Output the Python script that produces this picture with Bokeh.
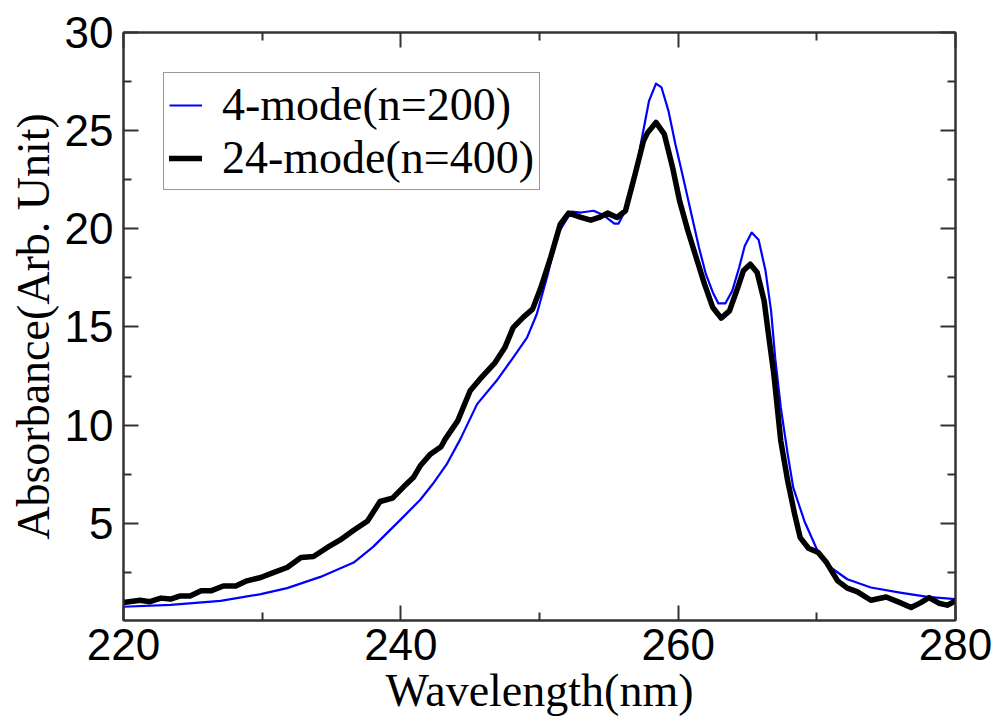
from bokeh.plotting import figure
from bokeh.models import Range1d, FixedTicker, LinearAxis, Legend, LegendItem
from bokeh.embed import file_html
from bokeh.resources import INLINE

# ---- data ----
wl_4mode = [220.0, 223.4, 227.0, 229.9, 231.8, 234.2, 236.6, 238.0, 239.0, 240.0,
            241.4, 242.3, 243.3, 244.3, 245.5, 246.9, 248.1, 249.1, 249.8, 250.6,
            251.3, 252.3, 253.0, 253.9, 254.6, 255.4, 255.7, 256.3, 256.8, 257.3,
            257.9, 258.4, 258.8, 259.3, 259.8, 260.3, 260.9, 261.5, 262.0, 262.5,
            262.9, 263.4, 263.9, 264.4, 264.8, 265.3, 265.8, 266.3, 266.7, 267.0,
            267.4, 267.9, 268.3, 269.1, 270.0, 271.0, 272.2, 273.9, 276.0, 278.0,
            280.0]
abs_4mode = [0.75, 0.85, 1.05, 1.39, 1.70, 2.27, 3.00, 3.80, 4.50, 5.20,
             6.20, 7.00, 8.00, 9.30, 11.07, 12.26, 13.44, 14.46, 15.65, 17.69,
             19.73, 20.88, 20.83, 20.92, 20.70, 20.27, 20.27, 21.08, 22.28, 24.31,
             26.52, 27.40, 27.20, 26.01, 24.31, 22.79, 20.92, 19.05, 17.69, 16.76,
             16.20, 16.20, 16.84, 18.03, 19.13, 19.81, 19.44, 17.86, 15.82, 13.40,
             10.90, 8.52, 6.82, 5.12, 3.68, 2.75, 2.15, 1.73, 1.47, 1.25,
             1.14]

wl_24mode = [220.0, 221.2, 221.9, 222.7, 223.4, 224.1, 224.8, 225.6, 226.3, 227.2,
             228.1, 228.9, 229.9, 230.8, 231.8, 232.8, 233.7, 234.7, 235.6, 236.6,
             237.6, 238.5, 239.4, 240.2, 240.9, 241.4, 242.1, 242.9, 243.2, 244.1,
             245.0, 245.7, 246.8, 247.5, 248.1, 248.8, 249.5, 250.1, 250.8, 251.5,
             252.1, 253.0, 253.7, 254.3, 254.9, 255.6, 256.2, 256.9, 257.5, 257.8,
             258.4, 259.0, 259.6, 260.1, 260.7, 261.3, 261.9, 262.5, 263.1, 263.7,
             264.3, 264.7, 265.2, 265.7, 266.2, 266.5, 266.9, 267.4, 267.9, 268.4,
             268.8, 269.4, 270.1, 270.7, 271.5, 272.2, 272.9, 273.9, 275.0, 276.0,
             276.8, 277.5, 278.1, 278.8, 279.4, 280.0]
abs_24mode = [0.97, 1.08, 1.01, 1.19, 1.14, 1.30, 1.30, 1.56, 1.56, 1.81,
              1.81, 2.07, 2.24, 2.49, 2.75, 3.26, 3.31, 3.77, 4.14, 4.65,
              5.12, 6.11, 6.28, 6.86, 7.33, 7.93, 8.50, 8.90, 9.29, 10.22,
              11.75, 12.34, 13.19, 13.95, 14.97, 15.48, 15.91, 17.01, 18.54, 20.24,
              20.80, 20.58, 20.44, 20.58, 20.80, 20.58, 20.92, 22.80, 24.48, 24.90,
              25.42, 24.82, 23.12, 21.43, 19.90, 18.54, 17.18, 15.99, 15.45, 15.82,
              17.01, 17.86, 18.20, 17.77, 16.33, 14.70, 12.60, 9.20, 7.16, 5.47,
              4.27, 3.73, 3.51, 3.00, 2.07, 1.70, 1.52, 1.08, 1.25, 0.96,
              0.71, 0.96, 1.22, 0.93, 0.83, 1.05]

x_major = [220, 240, 260, 280]
x_minor = [230, 250, 270]
y_major = [5, 10, 15, 20, 25, 30]
y_minor = [2.5, 7.5, 12.5, 17.5, 22.5, 27.5]

label_4 = "4-mode(n=200)"
label_24 = "24-mode(n=400)"

AX = "#333333"

p = figure(width=1000, height=719, output_backend="svg", toolbar_location=None,
           x_range=Range1d(220, 280), y_range=Range1d(0.05, 30),
           min_border_left=123, min_border_top=32, min_border_right=45,
           min_border_bottom=99)
p.background_fill_color = "white"
p.border_fill_color = "white"
p.grid.visible = False
p.outline_line_color = AX
p.outline_line_width = 2

xt = FixedTicker(ticks=x_major, minor_ticks=x_minor)
yt = FixedTicker(ticks=y_major, minor_ticks=y_minor)
p.xaxis.ticker = xt
p.yaxis.ticker = yt

for ax in (p.xaxis[0], p.yaxis[0]):
    ax.major_tick_in = 15
    ax.major_tick_out = 0
    ax.minor_tick_in = 8
    ax.minor_tick_out = 0
    ax.axis_line_color = AX
    ax.axis_line_width = 2
    ax.major_tick_line_color = AX
    ax.major_tick_line_width = 2
    ax.minor_tick_line_color = AX
    ax.minor_tick_line_width = 2
    ax.major_label_text_font = "Liberation Sans"
    ax.major_label_text_font_size = "44px"
    ax.major_label_text_color = "black"
    ax.axis_label_text_font = "Liberation Serif"
    ax.axis_label_text_font_size = "46px"
    ax.axis_label_text_font_style = "normal"
    ax.axis_label_text_color = "black"

p.xaxis.axis_label = "Wavelength(nm)"
p.xaxis.major_label_standoff = 8
p.xaxis.axis_label_standoff = 2
p.yaxis.axis_label = "Absorbance(Arb. Unit)"
p.yaxis.major_label_standoff = 10
p.yaxis.axis_label_standoff = 3

for side, tk in (("right", yt), ("above", xt)):
    a = LinearAxis(ticker=tk)
    a.major_tick_in = 15
    a.major_tick_out = 0
    a.minor_tick_in = 8
    a.minor_tick_out = 0
    a.axis_line_color = AX
    a.axis_line_width = 2
    a.major_tick_line_color = AX
    a.major_tick_line_width = 2
    a.minor_tick_line_color = AX
    a.minor_tick_line_width = 2
    a.major_label_text_font_size = "10px"
    a.major_label_text_color = None
    a.major_label_standoff = 0
    p.add_layout(a, side)

r4 = p.line(wl_4mode, abs_4mode, line_color="#0000ff", line_width=2.2,
            line_join="round")
r24 = p.line(wl_24mode, abs_24mode, line_color="black", line_width=5.5,
             line_join="round", line_cap="round")

legend = Legend(items=[LegendItem(label=label_4, renderers=[r4]),
                       LegendItem(label=label_24, renderers=[r24])],
                location="top_left", margin=40)
legend.label_text_font = "Liberation Serif"
legend.label_text_font_size = "46px"
legend.label_text_color = "black"
legend.glyph_width = 33
legend.glyph_height = 40
legend.label_height = 40
legend.label_standoff = 20
legend.padding = 5
legend.spacing = 0
legend.border_line_color = AX
legend.border_line_width = 1.5
legend.background_fill_color = "white"
legend.background_fill_alpha = 1
p.add_layout(legend, "center")

open("out.html", "w").write(file_html(p, INLINE))
